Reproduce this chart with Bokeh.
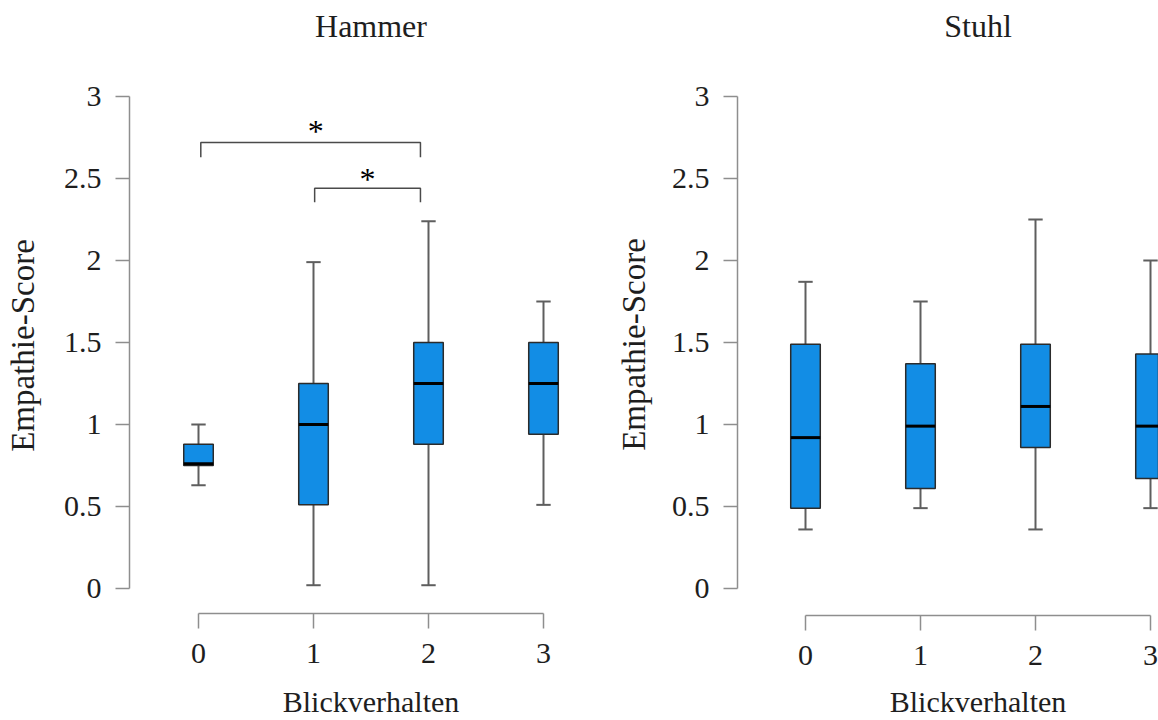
import math
from bokeh.plotting import figure
from bokeh.layouts import row
from bokeh.models import Range1d, FixedTicker, LinearAxis
from bokeh.core.properties import value
from bokeh.embed import file_html
from bokeh.resources import INLINE

# ---------------- data ----------------
categories = [0, 1, 2, 3]
x_tick_labels = {0: "0", 1: "1", 2: "2", 3: "3"}
y_ticks = [0, 0.5, 1, 1.5, 2, 2.5, 3]
y_tick_labels = {0: "0", 0.5: "0.5", 1: "1", 1.5: "1.5", 2: "2", 2.5: "2.5", 3: "3"}

panel_titles = ["Hammer", "Stuhl"]
x_title = "Blickverhalten"
y_title = "Empathie-Score"

hammer_lower = [0.63, 0.02, 0.02, 0.51]
hammer_q1 = [0.75, 0.51, 0.88, 0.94]
hammer_median = [0.76, 1.0, 1.25, 1.25]
hammer_q3 = [0.88, 1.25, 1.5, 1.5]
hammer_upper = [1.0, 1.99, 2.24, 1.75]

stuhl_lower = [0.36, 0.49, 0.36, 0.49]
stuhl_q1 = [0.49, 0.61, 0.86, 0.67]
stuhl_median = [0.92, 0.99, 1.11, 0.99]
stuhl_q3 = [1.49, 1.37, 1.49, 1.43]
stuhl_upper = [1.87, 1.75, 2.25, 2.0]

# significance brackets in the Hammer panel
bracket_from = [0.02, 1.01]
bracket_to = [1.93, 1.93]
bracket_top = [2.72, 2.44]
bracket_leg = [2.63, 2.355]
star_x = [1.02, 1.47]
star_y = [2.79, 2.495]
star_text = ["*", "*"]

# ---------------- style ----------------
FONT = "Liberation Serif"
BOX_FILL = "#128de5"
BOX_LINE = "#2b2b2b"
WHISKER = "#5e5e5e"
AXIS = "#8e8e8e"
TEXT = "#1e1e1e"
BOX_W = 0.257
CAP_W = 0.125
PX_X = 115.0   # pixels per category step
PX_Y = 164.0   # pixels per score unit
ZERO_Y = 588   # pixel row of score 0
H = 720


def make_panel(title, lower, q1, med, q3, upper, width, zero_x, yaxis_px,
               xaxis_px, ylab_px, ylab_py, brackets=False):
    p = figure(width=width, height=H, output_backend="svg", toolbar_location=None,
               x_range=Range1d(-zero_x / PX_X, (width - zero_x) / PX_X),
               y_range=Range1d(-(H - ZERO_Y) / PX_Y, ZERO_Y / PX_Y),
               x_axis_location=None, y_axis_location=None,
               min_border=0, outline_line_color=None,
               background_fill_color="white", border_fill_color="white")
    p.grid.visible = False

    # whiskers
    p.segment(x0=categories, y0=q3, x1=categories, y1=upper,
              line_color=WHISKER, line_width=2)
    p.segment(x0=categories, y0=q1, x1=categories, y1=lower,
              line_color=WHISKER, line_width=2)
    cx0 = [c - CAP_W / 2 for c in categories]
    cx1 = [c + CAP_W / 2 for c in categories]
    p.segment(x0=cx0, y0=upper, x1=cx1, y1=upper, line_color=WHISKER, line_width=2)
    p.segment(x0=cx0, y0=lower, x1=cx1, y1=lower, line_color=WHISKER, line_width=2)

    # boxes
    p.vbar(x=categories, width=BOX_W, bottom=q1, top=q3,
           fill_color=BOX_FILL, line_color=BOX_LINE, line_width=1.5)
    mx0 = [c - BOX_W / 2 for c in categories]
    mx1 = [c + BOX_W / 2 for c in categories]
    p.segment(x0=mx0, y0=med, x1=mx1, y1=med, line_color="black", line_width=3)

    if brackets:
        xs = [[f, f, t, t] for f, t in zip(bracket_from, bracket_to)]
        ys = [[l, tp, tp, l] for l, tp in zip(bracket_leg, bracket_top)]
        p.multi_line(xs=xs, ys=ys, line_color="#4a4a4a", line_width=1.5)
        p.text(x=star_x, y=star_y, text=star_text, text_font=value(FONT),
               text_font_size="32px", text_align="center",
               text_baseline="middle", text_color="black")

    # panel title
    p.text(x=[1.5], y=[(ZERO_Y - 25) / PX_Y], text=[title], text_font=value(FONT),
           text_font_size="32px", text_align="center",
           text_baseline="middle", text_color=TEXT)

    # axis titles
    p.text(x=[1.5], y=[(ZERO_Y - 701) / PX_Y], text=[x_title], text_font=value(FONT),
           text_font_size="30px", text_align="center",
           text_baseline="middle", text_color=TEXT)
    p.text(x=[(ylab_px - zero_x) / PX_X], y=[(ZERO_Y - ylab_py) / PX_Y], text=[y_title],
           text_font=value(FONT), text_font_size="33px", text_align="center",
           text_baseline="middle", angle=math.pi / 2, text_color=TEXT)

    # x axis (R-style, detached below the data)
    xa = LinearAxis(fixed_location=-(xaxis_px - ZERO_Y) / PX_Y)
    xa.ticker = FixedTicker(ticks=categories)
    xa.major_label_overrides = x_tick_labels
    xa.bounds = (0, 3)
    xa.axis_line_color = AXIS
    xa.axis_line_width = 1.5
    xa.major_tick_line_color = AXIS
    xa.major_tick_line_width = 1.5
    xa.major_tick_out = 15
    xa.major_tick_in = 0
    xa.minor_tick_line_color = None
    xa.major_label_text_font = FONT
    xa.major_label_text_font_size = "30px"
    xa.major_label_text_color = TEXT
    xa.major_label_standoff = 15
    p.add_layout(xa, "below")

    # y axis
    ya = LinearAxis(fixed_location=(yaxis_px - zero_x) / PX_X)
    ya.ticker = FixedTicker(ticks=y_ticks)
    ya.major_label_overrides = y_tick_labels
    ya.bounds = (0, 3)
    ya.axis_line_color = AXIS
    ya.axis_line_width = 1.5
    ya.major_tick_line_color = AXIS
    ya.major_tick_line_width = 1.5
    ya.major_tick_out = 14
    ya.major_tick_in = 0
    ya.minor_tick_line_color = None
    ya.major_label_text_font = FONT
    ya.major_label_text_font_size = "30px"
    ya.major_label_text_color = TEXT
    ya.major_label_standoff = 14
    ya.major_label_orientation = "horizontal"
    p.add_layout(ya, "left")
    return p


# left panel occupies page pixels 0..600, right panel 600..1158
p1 = make_panel(panel_titles[0], hammer_lower, hammer_q1, hammer_median,
                hammer_q3, hammer_upper, width=600, zero_x=198, yaxis_px=129,
                xaxis_px=613, ylab_px=22.5, ylab_py=345, brackets=True)
p2 = make_panel(panel_titles[1], stuhl_lower, stuhl_q1, stuhl_median,
                stuhl_q3, stuhl_upper, width=558, zero_x=205, yaxis_px=137,
                xaxis_px=615, ylab_px=33.5, ylab_py=344)

layout = row(p1, p2, spacing=0)
open("out.html", "w").write(file_html(layout, INLINE))
